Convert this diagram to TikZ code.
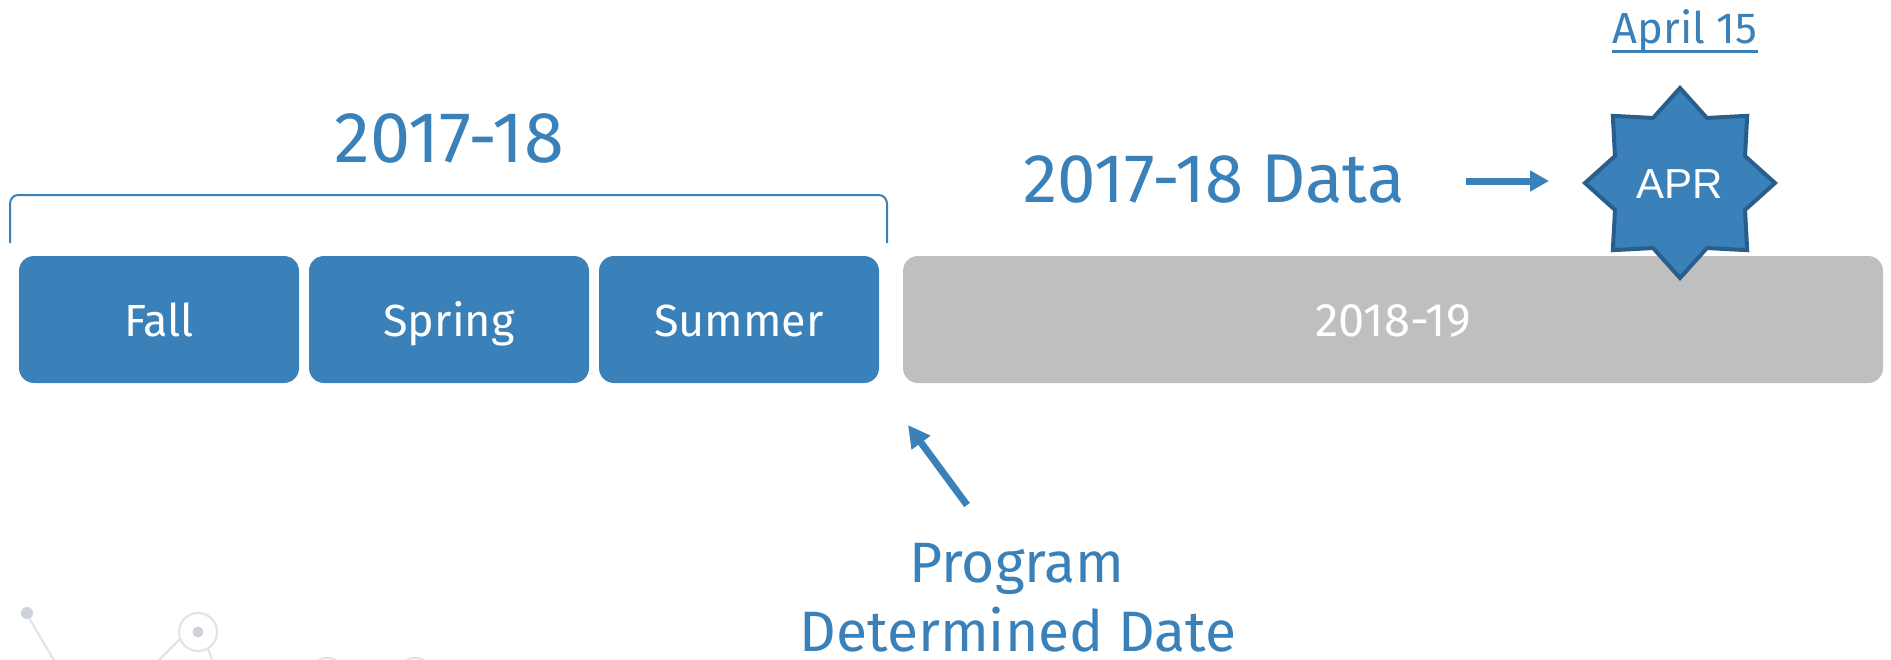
\documentclass[tikz,border=0pt]{standalone}
\usepackage{fontspec}
\setmainfont{Fira Sans}
\newfontfamily\arialf{Liberation Sans}
\usetikzlibrary{shapes.geometric,arrows.meta}
\definecolor{tblue}{RGB}{58,128,185}
\definecolor{sborder}{RGB}{40,94,140}
\definecolor{tgray}{RGB}{191,191,191}
\definecolor{orn}{RGB}{226,228,231}
\definecolor{orndot}{RGB}{205,210,217}
\newcommand{\fsz}[1]{\fontsize{#1}{#1}\selectfont}
\begin{document}
\begin{tikzpicture}[x=1pt,y=-1pt,
  season/.style={rounded corners=15pt, fill=tblue, minimum width=280pt, minimum height=127pt,
    inner sep=0pt, text=white, font=\fsz{45}, text height=34pt, text depth=0pt},
  yearbox/.style={season, fill=tgray, minimum width=980pt, font=\fsz{47}},
  bigtxt/.style={anchor=base, inner sep=0pt, text=tblue, font=\fsz{69}},
  midtxt/.style={anchor=base, inner sep=0pt, text=tblue, font=\fsz{57}},
  bluearrow/.style={draw=tblue, line width=7pt},
  orline/.style={draw=orn, line width=2.2pt}
]
\useasboundingbox (0,0) rectangle (1891,659);

% faint background ornaments
\fill[orndot] (27,613) circle (6);
\draw[orline] (29,618) -- (55,662);
\draw[orline] (198,632) circle (19);
\fill[orndot] (198,632) circle (5.5);
\draw[orline] (180,639) -- (157,662);
\draw[orline] (208,649) -- (213,662);
\draw[orline] (327,676) circle (18);
\draw[orline] (415,676) circle (18);

% season boxes
\node[season] (fall) at (159,319.5) {Fall};
\node[season] (spring) at (449,319.5) {Spring};
\node[season] (summer) at (739,319.5) {Summer};
\node[yearbox] (next) at (1393,319.5) {2018-19};

% bracket over the year
\coordinate (brL) at (10,243);
\coordinate (brR) at (887,243);
\draw[tblue, line width=2pt] (brL) -- (10,204) to[out=90,in=180] (18,195) -- (879,195)
  to[out=0,in=90] (887,204) -- (brR);

\node[bigtxt, font=\fsz{72}] (year) at (449,162) {2017-18};
\node[bigtxt] (data) at (1214,202) {2017-18 Data};

% star
\node[star, star points=8, star point ratio=1.35, minimum size=190pt, inner sep=0pt,
  fill=tblue, draw=sborder, line width=4pt, text=white, font=\arialf\fsz{42},
  text height=30pt, text depth=0pt] (apr) at (1680,183) {APR};

\node[anchor=base, inner sep=0pt, text=tblue, font=\fsz{43.5}] (april) at (1685,43) {April 15};
\draw[tblue, line width=3pt] ([yshift=-8pt]april.base west) -- ([yshift=-8pt]april.base east);

% arrows
\coordinate (dataend) at (1466,181);
\coordinate (aprtip) at (1549,181);
\draw[bluearrow, -{Triangle[length=19pt,width=20pt]}] (dataend) -- (aprtip);

\coordinate (pdtail) at (967,505);
\coordinate (pdtip) at (908,425);
\draw[bluearrow, -{Triangle[length=22pt,width=22pt]}] (pdtail) -- (pdtip);

\node[midtxt] (prog1) at (1017,582) {Program};
\node[midtxt] (prog2) at (1018,651) {Determined Date};
\end{tikzpicture}
\end{document}
